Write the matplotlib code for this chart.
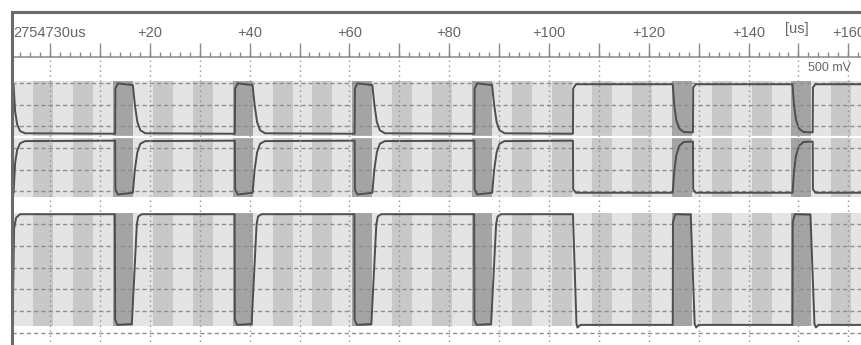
import numpy as np
import matplotlib
matplotlib.use("Agg")
import matplotlib.pyplot as plt

plt.rcParams['font.family'] = ['Liberation Sans', 'DejaVu Sans']

# time window, us after 2754730us
t_view = (-7.72, 162.53)

ruler_t = [0, 20, 40, 60, 80, 100, 120, 140, 160]
ruler_text = ['2754730us', '+20', '+40', '+60', '+80', '+100', '+120', '+140', '+160']

# 4us decode stripes starting at -7.4us: l = light, d = dark, x = edge cell
cell_t0 = -7.4
cell_w = 4.0
cells = "ldldlxldldlxldldlxldldlxldldldldlxldldlxldl"

# ch1: differential pair (V around centre), ch2: single ended (V)
ch1_open_t = [12.6, 36.6, 60.6, 84.6]
ch1_close_t = [124.6, 148.6]
switch_t = 104.8

open_dt = [0.0, 0.45, 0.5, 1.0, 4.0, 4.4, 4.9, 5.5, 6.5]
open_top = [0.08, 0.08, 1.12, 1.24, 1.20, 0.75, 0.35, 0.16, 0.09]
open_bot = [-0.08, -0.08, -1.20, -1.32, -1.28, -0.75, -0.35, -0.15, -0.09]

close_dt = [0.0, 0.2, 0.5, 0.9, 1.5, 2.4, 4.25, 4.3, 4.8]
close_top = [1.22, 1.22, 0.75, 0.40, 0.20, 0.12, 0.11, 1.15, 1.22]
close_bot = [-1.28, -1.28, -0.80, -0.42, -0.20, -0.11, -0.10, -1.20, -1.28]

low_dt = [0.0, 0.4, 0.45, 0.9, 3.8, 4.8, 5.1, 5.8]
low_v = [2.73, 2.73, 0.30, 0.18, 0.20, 2.50, 2.68, 2.73]
high_dt = [0.0, 0.2, 0.25, 0.7, 3.8, 4.6, 4.9, 5.4]
high_v = [0.18, 0.18, 2.55, 2.73, 2.72, 0.20, 0.12, 0.18]

ch1_start_t = [-7.3, -7.0, -6.6, -6.0, -5.0]
ch1_start_top = [1.20, 0.60, 0.30, 0.14, 0.09]
ch1_start_bot = [-1.28, -0.60, -0.30, -0.14, -0.09]
ch1_switch_dt = [0.0, 0.05, 0.6]
ch1_switch_top = [0.08, 1.12, 1.22]
ch1_switch_bot = [-0.08, -1.20, -1.28]

ch2_start_t = [-7.4, -7.2, -6.8, -6.0]
ch2_start_v = [0.90, 2.40, 2.65, 2.73]
ch2_switch_dt = [0.0, 0.7, 0.9, 1.5]
ch2_switch_v = [2.73, 0.22, 0.12, 0.18]

ch1_grid = [-1.25, -0.75, -0.25, 0.25, 0.75, 1.25]
ch2_grid = [0.0, 0.5, 1.0, 1.5, 2.0, 2.5]
ch1_band = (-1.378, 1.295)
ch2_band = (0.154, 2.758)

W, H = 861, 345
X0 = 11.5
PX_PER_V = 43.4
shade = {'l': '#e4e4e4', 'd': '#c8c8c8', 'x': '#a4a4a4'}
trace_col = '#4e4e4e'
grid_col = '#8e8e8e'
text_col = '#666666'


def build(pieces):
    tt, vv = [], []
    for t, v in pieces:
        tt += list(t)
        vv += list(v)
    order = np.argsort(tt, kind='stable')
    return np.array(tt)[order], np.array(vv)[order]


def chan_axes(row_top, row_bot, zero_row):
    ax = fig.add_axes([X0 / W, 1 - row_bot / H, 1 - X0 / W, (row_bot - row_top) / H])
    ax.set_xlim(t_view)
    ax.set_ylim((zero_row - row_bot) / PX_PER_V, (zero_row - row_top) / PX_PER_V)
    ax.axis('off')
    ax.patch.set_visible(False)
    ax.set_zorder(1)
    return ax


fig = plt.figure(figsize=(W / 100, H / 100), dpi=100)
fig.patch.set_facecolor('white')

ax1 = chan_axes(70, 205, 137.2)
ax2 = chan_axes(205, 345, 332.7)

for ax, band, grid in [(ax1, ch1_band, ch1_grid), (ax2, ch2_band, ch2_grid)]:
    starts = cell_t0 + cell_w * np.arange(len(cells))
    ax.bar(starts, band[1] - band[0], bottom=band[0], width=cell_w, align='edge',
           color=[shade[c] for c in cells], linewidth=0, zorder=0)
    for g in grid:
        ax.axhline(g, color=grid_col, lw=1.0, ls=(0, (3, 2.2)), zorder=1)

ax1.axhline(0.0, color='white', lw=1.6, zorder=2)

# ch1 traces
top_pieces = [(ch1_start_t, ch1_start_top)]
bot_pieces = [(ch1_start_t, ch1_start_bot)]
for ts in ch1_open_t:
    top_pieces.append(([ts + d for d in open_dt], open_top))
    bot_pieces.append(([ts + d for d in open_dt], open_bot))
top_pieces.append(([switch_t + d for d in ch1_switch_dt], ch1_switch_top))
bot_pieces.append(([switch_t + d for d in ch1_switch_dt], ch1_switch_bot))
for ts in ch1_close_t:
    top_pieces.append(([ts + d for d in close_dt], close_top))
    bot_pieces.append(([ts + d for d in close_dt], close_bot))
top_pieces.append(([t_view[1] + 1], [1.22]))
bot_pieces.append(([t_view[1] + 1], [-1.28]))
for pieces in (top_pieces, bot_pieces):
    t, v = build(pieces)
    ax1.plot(t, v, color=trace_col, lw=1.4, zorder=3, solid_joinstyle='round')

# ch2 trace
pieces = [(ch2_start_t, ch2_start_v)]
for ts in ch1_open_t:
    pieces.append(([ts + d for d in low_dt], low_v))
pieces.append(([switch_t + d for d in ch2_switch_dt], ch2_switch_v))
for ts in ch1_close_t:
    pieces.append(([ts + d for d in high_dt], high_v))
pieces.append(([t_view[1] + 1], [0.18]))
t, v = build(pieces)
ax2.plot(t, v, color=trace_col, lw=1.4, zorder=3, solid_joinstyle='round')

# ruler, grid and frame (y in screen rows)
ax = fig.add_axes([X0 / W, 0, 1 - X0 / W, 1 - X0 / H])
ax.set_zorder(3)
ax.patch.set_visible(False)
ax.set_xlim(t_view)
ax.set_ylim(H, X0)
ax.set_xticks([])
ax.set_yticks([])
for s in ['right', 'bottom']:
    ax.spines[s].set_visible(False)
for s in ['left', 'top']:
    ax.spines[s].set_linewidth(2.2)
    ax.spines[s].set_color('#6a6a6a')

major = np.arange(0, 170, 10)
minor = np.arange(-6, 164, 2)
ax.axhline(57.3, color='#8a8a8a', lw=1.1)
ax.vlines(minor, 51.5, 57.3, color='#8a8a8a', lw=1.0)
ax.vlines(major, 43, 57.3, color='#8a8a8a', lw=1.0)
ax.vlines(major, 59.5, H, color=grid_col, lw=1.0, linestyles=[(0, (1, 2.6))])

for t, s in zip(ruler_t, ruler_text):
    ax.text(t, 33, s, ha='center', va='center', fontsize=10.5, color=text_col, clip_on=False)
ax.text(149.7, 29.5, '[us]', ha='center', va='center', fontsize=10.5, color=text_col)
ax.text(156.3, 68, '500 mV', ha='center', va='center', fontsize=9, color=text_col)

fig.savefig('out.png', dpi=100, facecolor='white')
